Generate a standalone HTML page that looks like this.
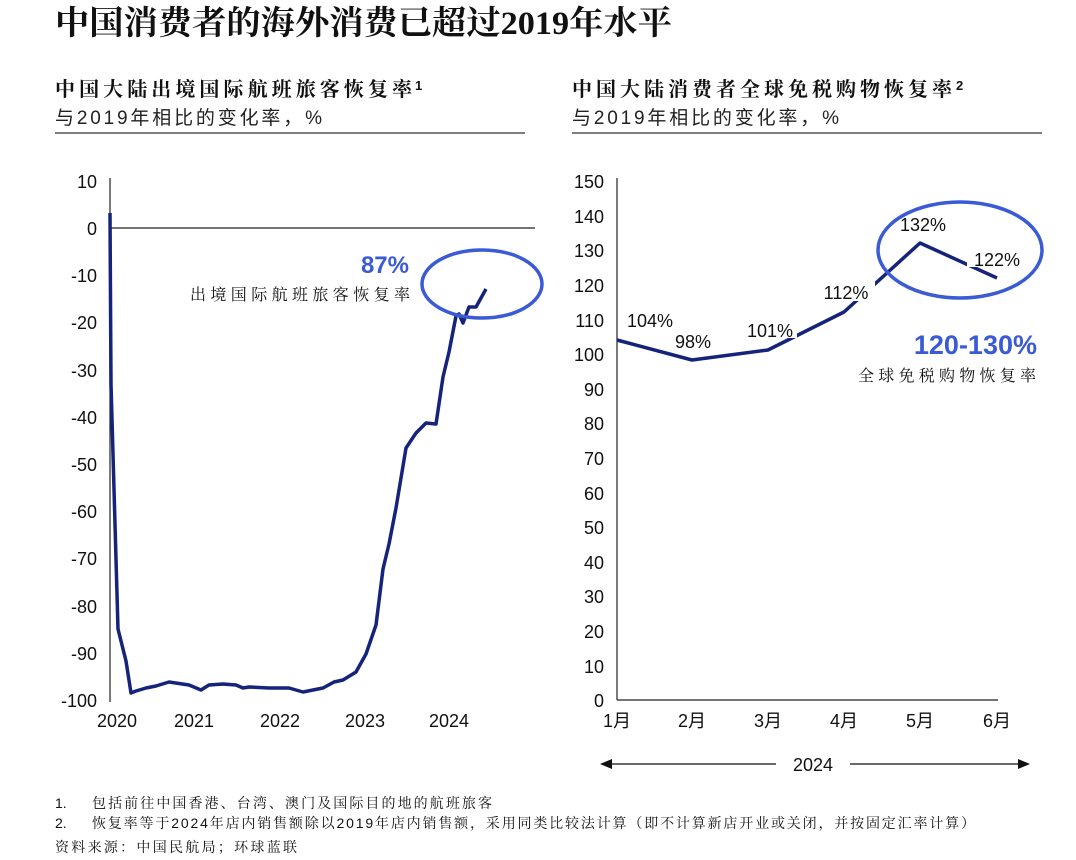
<!DOCTYPE html>
<html><head><meta charset="utf-8"><style>
html,body{margin:0;padding:0;background:#fff;}
svg{display:block;}
.s{font-family:"Liberation Sans","Noto Sans CJK SC",sans-serif;}
.sr{font-family:"Liberation Serif","Noto Serif CJK SC",serif;}
</style></head><body>
<svg width="1076" height="860" viewBox="0 0 1076 860" xmlns="http://www.w3.org/2000/svg">
<text x="55" y="34" class="sr" font-size="33" font-weight="bold" fill="#111" textLength="617" lengthAdjust="spacingAndGlyphs">中国消费者的海外消费已超过2019年水平</text>

<text x="55" y="96" class="sr" font-size="20" font-weight="bold" fill="#111" textLength="357" lengthAdjust="spacing">中国大陆出境国际航班旅客恢复率</text>
<text x="415" y="90" class="s" font-size="13" font-weight="bold" fill="#111">1</text>
<text x="55" y="124" class="s" font-size="19" fill="#222" textLength="267" lengthAdjust="spacing">与2019年相比的变化率，%</text>
<line x1="55" y1="133" x2="525" y2="133" stroke="#333" stroke-width="1.2"/>

<text x="572" y="96" class="sr" font-size="20" font-weight="bold" fill="#111" textLength="380" lengthAdjust="spacing">中国大陆消费者全球免税购物恢复率</text>
<text x="956" y="90" class="s" font-size="13" font-weight="bold" fill="#111">2</text>
<text x="572" y="124" class="s" font-size="19" fill="#222" textLength="267" lengthAdjust="spacing">与2019年相比的变化率，%</text>
<line x1="572" y1="133" x2="1042" y2="133" stroke="#333" stroke-width="1.2"/>

<!-- left chart -->
<g class="s" font-size="18" fill="#111" text-anchor="end">
<text x="97" y="188">10</text><text x="97" y="235">0</text><text x="97" y="282">-10</text>
<text x="97" y="329">-20</text><text x="97" y="377">-30</text><text x="97" y="424">-40</text>
<text x="97" y="471">-50</text><text x="97" y="518">-60</text><text x="97" y="565">-70</text>
<text x="97" y="613">-80</text><text x="97" y="660">-90</text><text x="97" y="707">-100</text>
</g>
<line x1="110" y1="178" x2="110" y2="702" stroke="#222" stroke-width="1.2"/>
<line x1="110" y1="228" x2="535" y2="228" stroke="#222" stroke-width="1.2"/>
<g class="s" font-size="18" fill="#111" text-anchor="middle">
<text x="117" y="727">2020</text><text x="194" y="727">2021</text><text x="280" y="727">2022</text>
<text x="365" y="727">2023</text><text x="449" y="727">2024</text>
</g>
<polyline fill="none" stroke="#15237a" stroke-width="3.5" stroke-linejoin="round" points="110,213 111,384 118,629 126,661 131,693 136,691 146,688 156,686 169,682 189,685 201,690 209,685 223,684 236,685 243,688 249,687 269,688 289,688 303,692 323,688 334,682 343,680 356,672 366,654 376,625 383,569 389,544 396,508 406,448 416,433 426,423 436,424 443,377 449,352 456,316 459,314 463,323 469,307 476,307 486,289"/>
<ellipse cx="482" cy="284" rx="60" ry="34" fill="none" stroke="#3a5ad6" stroke-width="3.5"/>
<text x="409" y="273" class="s" font-size="24" font-weight="bold" fill="#3a5ad6" text-anchor="end">87%</text>
<text x="190" y="300" class="sr" font-size="16" fill="#111" textLength="220" lengthAdjust="spacing">出境国际航班旅客恢复率</text>

<!-- right chart -->
<g class="s" font-size="18" fill="#111" text-anchor="end">
<text x="604" y="188">150</text><text x="604" y="223">140</text><text x="604" y="257">130</text>
<text x="604" y="292">120</text><text x="604" y="327">110</text><text x="604" y="361">100</text>
<text x="604" y="396">90</text><text x="604" y="430">80</text><text x="604" y="465">70</text>
<text x="604" y="500">60</text><text x="604" y="534">50</text><text x="604" y="569">40</text>
<text x="604" y="603">30</text><text x="604" y="638">20</text><text x="604" y="673">10</text>
<text x="604" y="707">0</text>
</g>
<line x1="617" y1="178" x2="617" y2="700" stroke="#222" stroke-width="1.2"/>
<line x1="617" y1="700" x2="998" y2="700" stroke="#222" stroke-width="1.2"/>
<g class="s" font-size="18" fill="#111" text-anchor="middle">
<text x="617" y="727">1月</text><text x="692" y="727">2月</text><text x="768" y="727">3月</text>
<text x="844" y="727">4月</text><text x="920" y="727">5月</text><text x="997" y="727">6月</text>
</g>
<polyline fill="none" stroke="#15237a" stroke-width="3.5" stroke-linejoin="round" points="617,340 692,360 768,350 844,312 920,243 997,278"/>
<rect x="743" y="316" width="54" height="22" fill="#fff"/>
<rect x="817" y="279" width="58" height="22" fill="#fff"/>
<rect x="967" y="245" width="58" height="22" fill="#fff"/>
<ellipse cx="960" cy="250" rx="82" ry="48" fill="none" stroke="#3a5ad6" stroke-width="3.5"/>
<g class="s" font-size="18" fill="#111" text-anchor="middle">
<text x="650" y="327">104%</text><text x="693" y="348">98%</text><text x="770" y="337">101%</text>
<text x="846" y="299">112%</text><text x="923" y="231">132%</text><text x="997" y="266">122%</text>
</g>
<text x="1037" y="354" class="s" font-size="27" font-weight="bold" fill="#3a5ad6" text-anchor="end">120-130%</text>
<text x="858" y="381" class="sr" font-size="16" fill="#111" textLength="178" lengthAdjust="spacing">全球免税购物恢复率</text>

<line x1="606" y1="764" x2="776" y2="764" stroke="#111" stroke-width="1.3"/>
<line x1="850" y1="764" x2="1022" y2="764" stroke="#111" stroke-width="1.3"/>
<polygon points="600,764 612,759 612,769" fill="#111"/>
<polygon points="1030,764 1018,759 1018,769" fill="#111"/>
<text x="813" y="771" class="s" font-size="18" fill="#111" text-anchor="middle">2024</text>

<!-- footnotes -->
<g class="sr" font-size="14" fill="#111">
<text x="55" y="808" class="s">1.</text><text x="92" y="808" textLength="400" lengthAdjust="spacing">包括前往中国香港、台湾、澳门及国际目的地的航班旅客</text>
<text x="55" y="828" class="s">2.</text><text x="92" y="828" textLength="883" lengthAdjust="spacing">恢复率等于<tspan class="s">2024</tspan>年店内销售额除以<tspan class="s">2019</tspan>年店内销售额，采用同类比较法计算（即不计算新店开业或关闭，并按固定汇率计算）</text>
<text x="55" y="852" textLength="242" lengthAdjust="spacing">资料来源：中国民航局；环球蓝联</text>
</g>
</svg>
</body></html>
